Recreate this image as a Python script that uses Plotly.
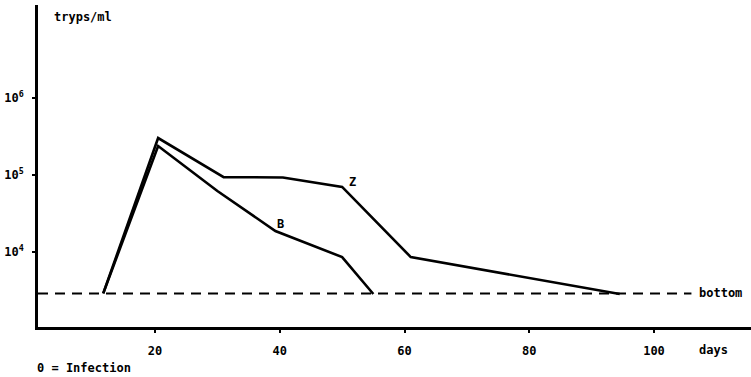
import math
import plotly.graph_objects as go

# Data (days, trypanosomes per ml)
z_days = [11.7, 20.5, 31, 40.5, 50, 61, 94.5]
z_tryps = [2900, 302000, 94000, 93000, 70000, 8600, 2850]

b_days = [11.7, 20.5, 30, 39.3, 50, 55]
b_tryps = [2900, 238000, 62000, 18700, 8600, 2850]

bottom_level = 2900
bottom_days = [1.24, 106]

x_ticks = [20, 40, 60, 80, 100]
x_tick_labels = ["20", "40", "60", "80", "100"]
y_ticks = [1e4, 1e5, 1e6]
y_tick_labels = ["10<sup>4</sup>", "10<sup>5</sup>", "10<sup>6</sup>"]

FONT = dict(family="DejaVu Sans Mono", size=12, color="black", weight="bold")

fig = go.Figure()
fig.add_trace(go.Scatter(x=bottom_days, y=[bottom_level, bottom_level], mode="lines",
                         line=dict(color="black", width=2, dash="10px,7px"), hoverinfo="skip"))
fig.add_trace(go.Scatter(x=z_days, y=z_tryps, mode="lines",
                         line=dict(color="black", width=2.6), name="Z"))
fig.add_trace(go.Scatter(x=b_days, y=b_tryps, mode="lines",
                         line=dict(color="black", width=2.6), name="B"))

fig.update_layout(
    width=751, height=377,
    margin=dict(l=38, r=0, t=5, b=50),
    paper_bgcolor="white", plot_bgcolor="white",
    showlegend=False,
    font=FONT,
    xaxis=dict(range=[1.24, 115.55], showgrid=False, zeroline=False,
               showline=True, linecolor="black", linewidth=2.5,
               tickmode="array", tickvals=x_ticks, ticktext=x_tick_labels,
               ticks="outside", ticklen=3, tickwidth=1.5, tickcolor="black",
               ticklabelstandoff=8, tickfont=FONT),
    yaxis=dict(type="log", range=[3.026, 7.208], showgrid=False, zeroline=False,
               showline=True, linecolor="black", linewidth=2.5,
               tickmode="array", tickvals=y_ticks, ticktext=y_tick_labels,
               ticks="outside", ticklen=3, tickwidth=1.5, tickcolor="black",
               ticklabelstandoff=6, tickfont=FONT),
)

fig.add_annotation(text="tryps/ml", xref="paper", yref="paper", x=(52-38)/713, y=1 - (17-5)/322,
                   xanchor="left", yanchor="middle", showarrow=False, font=FONT)
fig.add_annotation(text="Z", x=51.7, y=math.log10(82000), xanchor="center", yanchor="middle",
                   showarrow=False, font=FONT)
fig.add_annotation(text="B", x=40.1, y=math.log10(23000), xanchor="center", yanchor="middle",
                   showarrow=False, font=FONT)
fig.add_annotation(text="bottom", xref="paper", x=(697-38)/713, y=math.log10(bottom_level),
                   xanchor="left", yanchor="middle", showarrow=False, font=FONT)
fig.add_annotation(text="days", xref="paper", yref="paper", x=(697-38)/713, y=-(350-327)/322,
                   xanchor="left", yanchor="middle", showarrow=False, font=FONT)
fig.add_annotation(text="0 = Infection", xref="paper", yref="paper", x=(35-38)/713, y=-(368-327)/322,
                   xanchor="left", yanchor="middle", showarrow=False, font=FONT)

fig.write_html("out.html")
